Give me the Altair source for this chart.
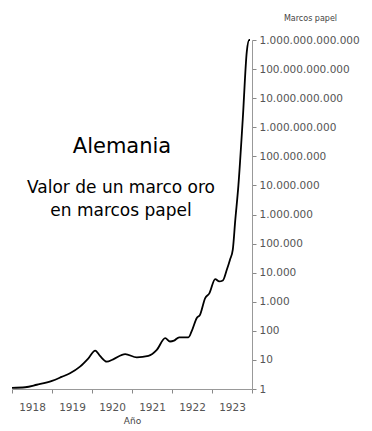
import altair as alt
import pandas as pd

years = [1918.0, 1918.33, 1918.62, 1919.0, 1919.24, 1919.45, 1919.7, 1919.91,
         1920.08, 1920.2, 1920.37, 1920.53, 1920.83, 1921.12, 1921.41, 1921.62,
         1921.83, 1921.95, 1922.05, 1922.18, 1922.41, 1922.49, 1922.62, 1922.7,
         1922.83, 1922.93, 1923.08, 1923.18, 1923.27, 1923.37, 1923.45, 1923.52,
         1923.58, 1923.66, 1923.77, 1923.87, 1923.93, 1923.95]
values = [1.1, 1.15, 1.4, 1.9, 2.6, 3.5, 5.9, 11.4,
          21, 13.7, 8.7, 10.5, 15.8, 12.3, 13.7, 22,
          56, 43, 46, 60, 60, 95, 275, 355,
          1340, 1900, 6000, 5000, 5400, 12600, 28000, 62000,
          6e5, 1e7, 2e9, 4e11, 1e12, 1e12]

x_ticks = [1918, 1919, 1920, 1921, 1922, 1923, 1924]
y_ticks = [1, 10, 100, 1e3, 1e4, 1e5, 1e6, 1e7, 1e8, 1e9, 1e10, 1e11, 1e12]

title_main = "Alemania"
subtitle_lines = ["Valor de un marco oro", "en marcos papel"]

df = pd.DataFrame({"anio": years, "valor": values})

FONT = "DejaVu Sans"

line = alt.Chart(df).mark_line(color="black", strokeWidth=1.8, interpolate="monotone").encode(
    x=alt.X("anio:Q",
            scale=alt.Scale(domain=[1918, 1924], nice=False, zero=False),
            axis=alt.Axis(values=x_ticks, format="d", labelOffset=20,
                          labelExpr="datum.value == 1924 ? '' : datum.label",
                          labelFlush=False, labelOverlap=False, labelAlign="center",
                          grid=False, tickSize=4, tickColor="#888", domainColor="#999",
                          labelFontSize=10.5, labelColor="#555", labelPadding=9,
                          title="Año", titleFontSize=9, titleFontWeight="normal",
                          titleColor="#444", titlePadding=4)),
    y=alt.Y("valor:Q",
            scale=alt.Scale(type="log", domain=[1, 1e12], nice=False),
            axis=alt.Axis(orient="right", values=y_ticks,
                          labelExpr="replace(format(datum.value, ',d'), regexp(',', 'g'), '.')",
                          grid=False, tickSize=4, tickColor="#888", domainColor="#999",
                          labelFontSize=10.5, labelColor="#555", labelPadding=3,
                          title="Marcos papel", titleAngle=0, titleX=58, titleY=-22,
                          titleAlign="center", titleBaseline="middle",
                          titleFontSize=8, titleFontWeight="normal", titleColor="#444")),
)

t1 = alt.Chart(pd.DataFrame({"t": [title_main]})).mark_text(
    fontSize=21, font=FONT, color="black", align="center", baseline="middle"
).encode(text="t:N", x=alt.value(110), y=alt.value(107))

t2 = alt.Chart(pd.DataFrame({"t": [subtitle_lines[0]]})).mark_text(
    fontSize=17, font=FONT, color="black", align="center", baseline="middle"
).encode(text="t:N", x=alt.value(109), y=alt.value(148))

t3 = alt.Chart(pd.DataFrame({"t": [subtitle_lines[1]]})).mark_text(
    fontSize=17, font=FONT, color="black", align="center", baseline="middle"
).encode(text="t:N", x=alt.value(109), y=alt.value(171))

chart = alt.layer(line, t1, t2, t3).properties(
    width=240, height=349,
    autosize=alt.AutoSizeParams(type="none"),
    padding={"left": 4, "top": 32, "right": 108, "bottom": 40},
).configure(font=FONT).configure_view(stroke=None)

chart.save("out.html", embed_options={"renderer": "svg", "actions": False})
